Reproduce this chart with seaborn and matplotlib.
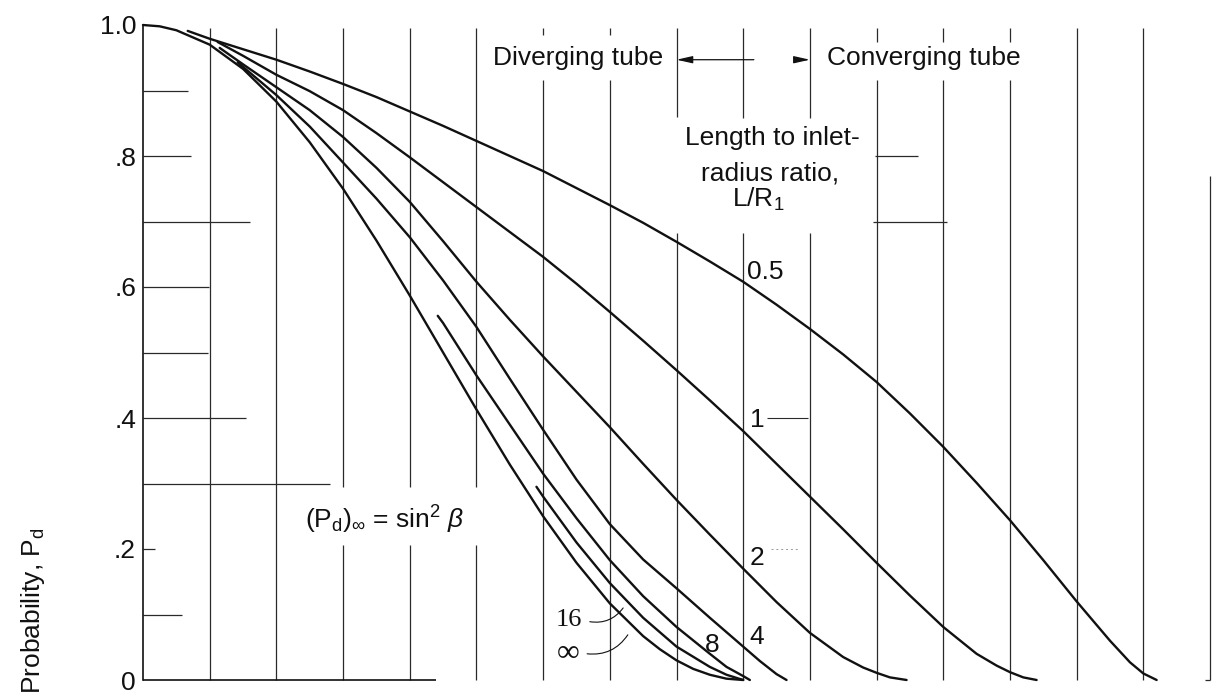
import matplotlib
matplotlib.use("Agg")
import matplotlib.pyplot as plt
import numpy as np
import pandas as pd
import seaborn as sns

# Cone half-angle beta (deg) and transmission probability P_d for each length ratio L/R1
beta_05 = [83.3, 80, 75, 70, 65, 60, 55, 50, 45, 40, 35, 30, 25, 20, 15, 10, 5, 0,
           -5, -10, -15, -20, -25, -30, -35, -40, -45, -50, -55, -58, -60, -62]
pd_05 = [0.991, 0.979, 0.963, 0.947, 0.929, 0.910, 0.890, 0.868, 0.846, 0.823, 0.800,
         0.777, 0.751, 0.725, 0.698, 0.669, 0.639, 0.608, 0.573, 0.536, 0.497, 0.455,
         0.407, 0.356, 0.301, 0.244, 0.183, 0.120, 0.060, 0.027, 0.010, 0.0]

beta_1 = [78.8, 75, 70, 65, 60, 55, 50, 45, 40, 35, 30, 25, 20, 15, 10, 5, 0,
          -5, -10, -15, -20, -25, -30, -35, -38, -40, -42, -44]
pd_1 = [0.974, 0.953, 0.924, 0.899, 0.870, 0.835, 0.798, 0.760, 0.722, 0.684, 0.646,
        0.605, 0.562, 0.518, 0.473, 0.427, 0.380, 0.330, 0.280, 0.230, 0.179, 0.129,
        0.081, 0.040, 0.022, 0.012, 0.004, 0.0]

beta_2 = [78.5, 75, 70, 65, 60, 55, 50, 45, 40, 35, 30, 25, 20, 15, 10, 5, 0,
          -5, -10, -15, -18, -20, -22, -24.5]
pd_2 = [0.965, 0.940, 0.905, 0.870, 0.829, 0.782, 0.730, 0.670, 0.608, 0.550, 0.494,
        0.440, 0.386, 0.330, 0.275, 0.222, 0.170, 0.119, 0.072, 0.035, 0.019, 0.011,
        0.004, 0.0]

beta_4 = [75.8, 70, 65, 60, 55, 50, 45, 40, 35, 30, 25, 20, 15, 10, 5, 0,
          -2.5, -5, -6, -6.5]
pd_4 = [0.943, 0.893, 0.845, 0.790, 0.735, 0.676, 0.610, 0.539, 0.460, 0.382, 0.306,
        0.238, 0.184, 0.140, 0.095, 0.051, 0.029, 0.009, 0.003, 0.0]

beta_8 = [45.8, 45, 40, 35, 30, 25, 20, 15, 10, 5, 2.5, 0, -1]
pd_8 = [0.556, 0.545, 0.465, 0.390, 0.315, 0.247, 0.183, 0.128, 0.081, 0.040, 0.020,
        0.006, 0.0]

beta_16 = [31, 30, 25, 20, 15, 10, 5, 2.5, 0]
pd_16 = [0.295, 0.280, 0.210, 0.148, 0.095, 0.051, 0.020, 0.008, 0.0]

beta_inf = [90, 87.5, 85, 80, 75, 70, 65, 60, 55, 50, 45, 40, 35, 30, 25, 20, 15,
            12.5, 10, 7.5, 5, 2.5, 0]
pd_inf = [1.0, 0.998, 0.992, 0.970, 0.933, 0.883, 0.821, 0.750, 0.671, 0.587, 0.500,
          0.413, 0.329, 0.250, 0.179, 0.117, 0.067, 0.047, 0.030, 0.017, 0.008, 0.002, 0.0]

ratio_names = ["0.5", "1", "2", "4", "8", "16", "inf"]
y_ticks = [0, 0.2, 0.4, 0.6, 0.8, 1.0]
y_tick_labels = ["0", ".2", ".4", ".6", ".8", "1.0"]

curves = pd.concat([
    pd.DataFrame({"beta": b, "Pd": p, "ratio": name})
    for name, b, p in zip(ratio_names,
                          [beta_05, beta_1, beta_2, beta_4, beta_8, beta_16, beta_inf],
                          [pd_05, pd_1, pd_2, pd_4, pd_8, pd_16, pd_inf])
], ignore_index=True)

sns.set_theme(style="white")
plt.rcParams["font.family"] = ["Liberation Sans", "DejaVu Sans"]
plt.rcParams["mathtext.fontset"] = "custom"
plt.rcParams["mathtext.rm"] = "Liberation Sans"
plt.rcParams["mathtext.it"] = "Liberation Sans:italic"
plt.rcParams["mathtext.bf"] = "Liberation Sans:bold"

W, H = 1212, 693
fig = plt.figure(figsize=(W / 100, H / 100), dpi=100)
ax = fig.add_axes([143 / W, 1 - 680 / H, (1210 - 143) / W, 655 / H])
ax.set_xlim(90, -70)
ax.set_ylim(0, 1)

INK = "#111111"
GRID = "#2a2a2a"
FS = 19

# vertical rules every 10 deg, broken behind the lettering
breaks = {
    60: [(0.206, 0.295)], 50: [(0.206, 0.295)], 40: [(0.206, 0.295)],
    30: [(0.916, 0.985)], 20: [(0.916, 0.985)],
    10: [(0.682, 0.860)], 0: [(0.682, 0.858)], -10: [(0.682, 0.858)],
    -20: [(0.916, 0.974)], -30: [(0.916, 0.974)], -40: [(0.916, 0.974)],
}
for b in range(80, -70, -10):
    top = 0.995
    segs = []
    lo = 0.0
    for g0, g1 in sorted(breaks.get(b, [])):
        segs.append((lo, g0))
        lo = g1
    segs.append((lo, top))
    for y0, y1 in segs:
        ax.vlines(b, y0, y1, color=GRID, lw=0.9, clip_on=False)
ax.vlines(-70, 0.0, 0.77, color=GRID, lw=0.9, clip_on=False)
ax.hlines(0.0, -69.3, -70, color=GRID, lw=0.9, clip_on=False)

# short horizontal rules off the ordinate
left_rules = [(0.9, 83.3), (0.8, 82.8), (0.7, 74.0), (0.6, 80.1), (0.5, 80.3),
              (0.4, 74.6), (0.3, 62.0), (0.2, 88.2), (0.1, 84.2)]
for yv, bend in left_rules:
    ax.hlines(yv, 90, bend, color=GRID, lw=0.9)
ax.hlines(0.8, -19.7, -26.2, color=GRID, lw=0.9)
ax.hlines(0.7, -19.4, -30.5, color=GRID, lw=0.9)
ax.hlines(0.4, -3.5, -9.7, color=GRID, lw=0.8)
ax.hlines(0.2, -4.1, -8.5, color="#999999", lw=0.7, linestyles=(0, (2, 3)))
ax.hlines(0.0, 90, 46, color=INK, lw=1.2, clip_on=False)

sns.lineplot(data=curves, x="beta", y="Pd", units="ratio", estimator=None,
             sort=False, color=INK, lw=1.7, ax=ax, legend=False)
for ln in ax.lines:
    ln.set_clip_on(False)

for s in ["top", "right", "bottom"]:
    ax.spines[s].set_visible(False)
ax.spines["left"].set_color(INK)
ax.spines["left"].set_linewidth(1.2)
ax.set_xticks([])
ax.set_yticks(y_ticks)
ax.set_yticklabels(y_tick_labels, fontsize=FS, color=INK)
ax.tick_params(axis="y", length=0, pad=5)
ax.set_xlabel("")
ax.set_ylabel("")

fig.text(0.027, 1 - 527 / H, r"Probability, $\mathrm{P_d}$",
         rotation=90, ha="center", va="top", fontsize=FS, color=INK)

# header lettering and dimension arrows
ax.text(37.5, 0.950, "Diverging tube", fontsize=FS, ha="left", va="center", color=INK)
ax.text(-12.5, 0.950, "Converging tube", fontsize=FS, ha="left", va="center", color=INK)
ax.annotate("", xy=(10, 0.947), xytext=(-1.6, 0.947),
            arrowprops=dict(arrowstyle="-|>,head_length=0.8,head_width=0.18",
                            color=INK, lw=0.9, shrinkA=0, shrinkB=0))
ax.annotate("", xy=(-10, 0.947), xytext=(-7.8, 0.947),
            arrowprops=dict(arrowstyle="-|>,head_length=0.8,head_width=0.18",
                            color=INK, lw=0.9, shrinkA=0, shrinkB=0))

ax.text(-4.4, 0.827, "Length to inlet-", fontsize=FS, ha="center", va="center", color=INK)
ax.text(-4.0, 0.774, "radius ratio,", fontsize=FS, ha="center", va="center", color=INK)
ax.text(-2.2, 0.733, r"$\mathrm{L/R_1}$", fontsize=FS, ha="center", va="center", color=INK)

# curve labels
ax.text(-0.55, 0.623, "0.5", fontsize=FS, ha="left", va="center", color=INK)
ax.text(-1.0, 0.397, "1", fontsize=FS, ha="left", va="center", color=INK)
ax.text(-1.0, 0.186, "2", fontsize=FS, ha="left", va="center", color=INK)
ax.text(-1.0, 0.066, "4", fontsize=FS, ha="left", va="center", color=INK)
ax.text(4.6, 0.053, "8", fontsize=FS, ha="center", va="center", color=INK)
ax.text(26.2, 0.092, "16", fontsize=FS, ha="center", va="center", color=INK,
        family=["Liberation Serif", "DejaVu Serif"])
ax.text(26.3, 0.040, "\u221e", fontsize=FS + 4, ha="center", va="center", color=INK,
        family=["Liberation Serif", "DejaVu Serif"])
ax.annotate("", xy=(18.0, 0.110), xytext=(23.0, 0.089),
            arrowprops=dict(arrowstyle="-", color=INK, lw=0.8,
                            connectionstyle="arc3,rad=0.3", shrinkA=0, shrinkB=0))
ax.annotate("", xy=(17.3, 0.069), xytext=(23.4, 0.040),
            arrowprops=dict(arrowstyle="-", color=INK, lw=0.8,
                            connectionstyle="arc3,rad=0.3", shrinkA=0, shrinkB=0))

ax.text(65.7, 0.245, r"$\mathrm{(P_d)_\infty}$ = $\mathrm{sin^2}$ $\beta$",
        fontsize=FS, ha="left", va="center", color=INK)

fig.savefig("out.png", dpi=100)
